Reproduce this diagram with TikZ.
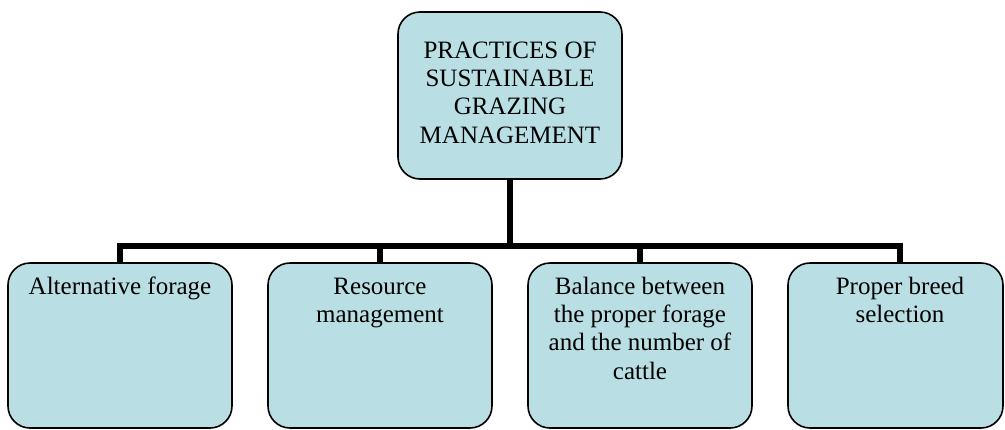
\documentclass[tikz,border=0pt]{standalone}
\usepackage{fontspec}
\setmainfont{Liberation Serif}
\definecolor{boxfill}{HTML}{B9DFE4}
\begin{document}
\begin{tikzpicture}[x=1pt,y=-1pt,
  box/.style={draw=black,line width=1.6pt,fill=boxfill,rounded corners=22pt,inner sep=0pt},
  txt/.style={anchor=north,inner sep=0pt,align=center,font=\fontsize{25}{28.3}\selectfont},
  conn/.style={line width=5.6pt,line cap=butt}]
\useasboundingbox (0,0) rectangle (1005,429);
% boxes
\node[box,minimum width=224pt,minimum height=167pt] (top) at (510,95.5) {};
\node[box,minimum width=224pt,minimum height=165pt] (b1) at (120,345.5) {};
\node[box,minimum width=224pt,minimum height=165pt] (b2) at (380,345.5) {};
\node[box,minimum width=224pt,minimum height=165pt] (b3) at (640,345.5) {};
\node[box,minimum width=215pt,minimum height=165pt] (b4) at (895.5,345.5) {};
% connectors
\coordinate (j) at (510,246);
\coordinate (d4) at ([xshift=4.5pt]b4.north);
\coordinate (d2) at (b2.north |- j);
\coordinate (d3) at (b3.north |- j);
\draw[conn] (top.south) -- (j);
\draw[conn] (b1.north) |- (j) -| (d4);
\draw[conn] (d2) -- (b2.north);
\draw[conn] (d3) -- (b3.north);
% texts
\node[txt] (t0) at (510,38.2) {\strut PRACTICES OF\\SUSTAINABLE\\GRAZING\\MANAGEMENT};
\node[txt] (t1) at (120,274.2) {\strut Alternative forage};
\node[txt] (t2) at (380,274.2) {\strut Resource\\management};
\node[txt] (t3) at (640,274.2) {\strut Balance between\\the proper forage\\and the number of\\cattle};
\node[txt] (t4) at (900,274.2) {\strut Proper breed\\selection};
\end{tikzpicture}
\end{document}
